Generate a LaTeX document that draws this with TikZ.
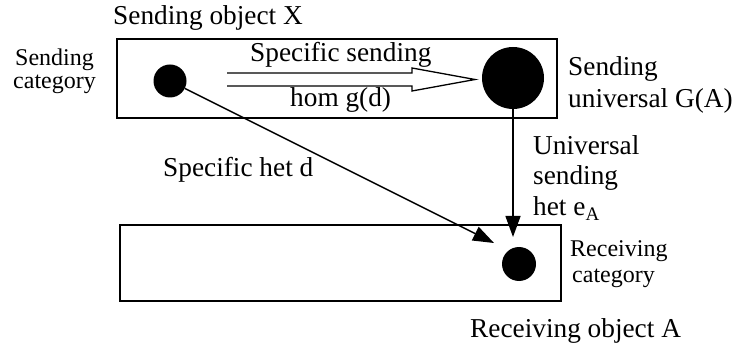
\documentclass[tikz,border=0pt]{standalone}
\usepackage{fontspec}
\setmainfont{Liberation Serif}
\usetikzlibrary{arrows.meta,calc}
\begin{document}
\begin{tikzpicture}[x=1pt,y=-1pt,
  box/.style={draw, line width=1.6pt},
  dot/.style={circle, fill=black, inner sep=0pt},
  lbl/.style={anchor=base west, inner sep=0pt, font=\fontsize{27.3}{30}\selectfont},
  slbl/.style={anchor=base west, inner sep=0pt, font=\fontsize{24}{26}\selectfont},
  conn/.style={line width=1.4pt, -{Triangle[length=21pt,width=15pt]}},
  hollow/.style={line width=1.3pt, line join=miter}
]
\useasboundingbox (0,0) rectangle (733,347);
% category boxes
\draw[box] (117,39) rectangle (557,118);
\draw[box] (120,225) rectangle (561,301);
% objects
\node[dot, minimum size=33pt] (small) at (170,81) {};
\node[dot, minimum size=62pt] (big) at (513,78) {};
\node[dot, minimum size=34pt] (recv) at (519,264) {};
% hollow double arrow (specific sending hom)
\coordinate (hs) at (227,79.5);
\coordinate (he) at (475,79.5);
\draw[hollow] ($(hs)+(0,-6.5)$) -- ($(he)+(-63,-6.5)$) -- ($(he)+(-63,-11.5)$) -- (he)
  -- ($(he)+(-63,11.5)$) -- ($(he)+(-63,6.5)$) -- ($(hs)+(0,6.5)$);
% het arrows
\coordinate (dtip) at (494,243);
\coordinate (vtip) at (513,237);
\draw[conn] (small) -- (dtip);
\draw[conn] (big) -- (vtip);
% labels
\node[lbl] (sendobj) at (113,25) {Sending object X};
\node[slbl] (sc1) at (15,66) {Sending};
\node[slbl] (sc2) at (13,89) {category};
\node[lbl] (ss) at (250,62) {Specific sending};
\node[lbl] (hom) at (290,107) {hom g(d)};
\node[lbl] (su1) at (568,76) {Sending};
\node[lbl] (su2) at (568,108) {universal G(A)};
\node[lbl] (het) at (163,177) {Specific het d};
\node[lbl] (us1) at (533,155) {Universal};
\node[lbl] (us2) at (533,185) {sending};
\node[lbl] (us3) at (533,216) {het e\textsubscript{A}};
\node[slbl] (rc1) at (570,257) {Receiving};
\node[slbl] (rc2) at (572,283) {category};
\node[lbl] (ro) at (470,337) {Receiving object A};
\end{tikzpicture}
\end{document}
